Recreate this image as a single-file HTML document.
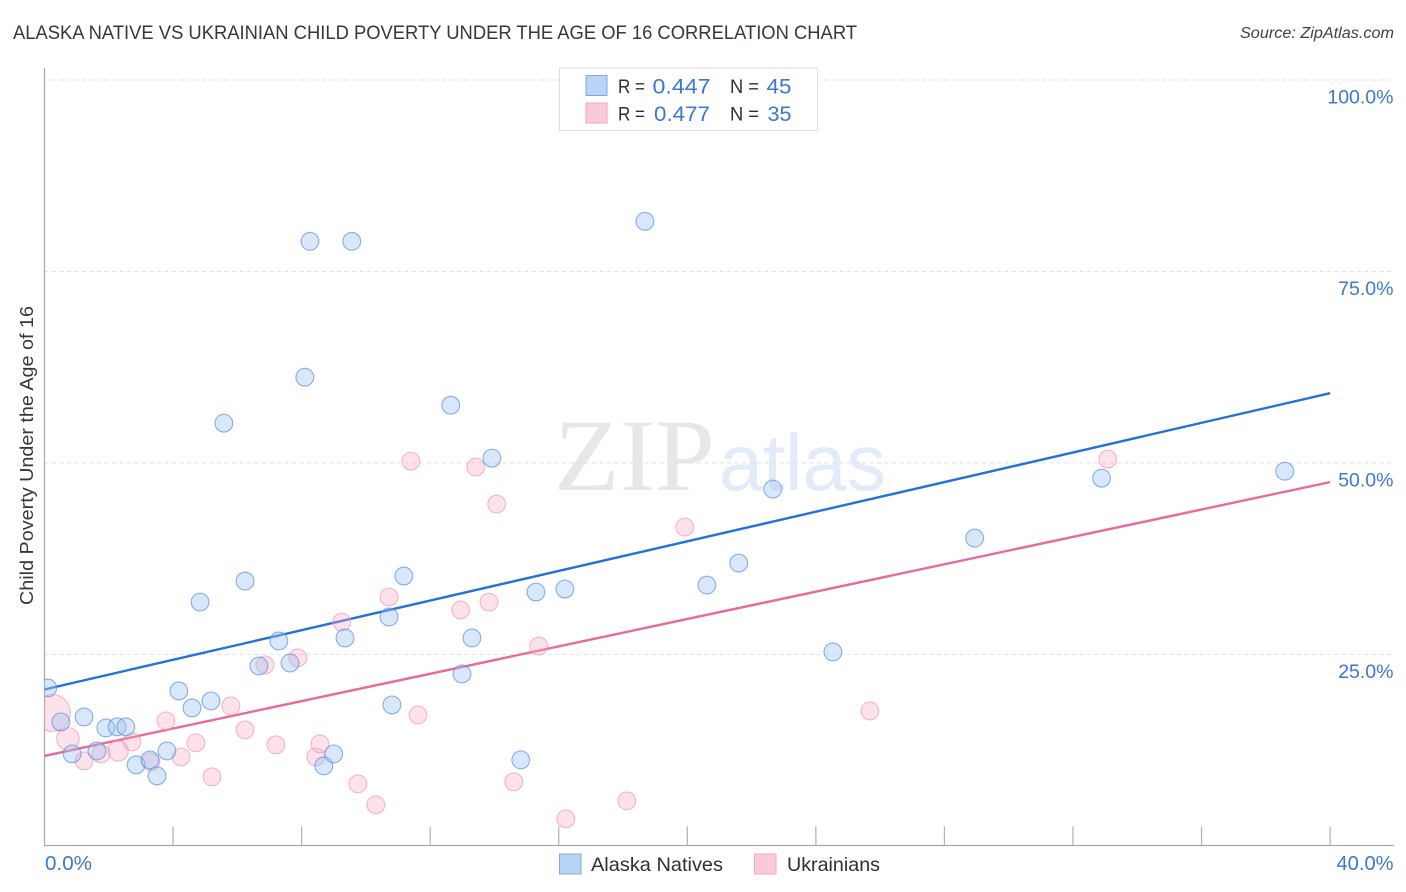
<!DOCTYPE html>
<html lang="en">
<head>
<meta charset="utf-8">
<title>Alaska Native vs Ukrainian Child Poverty Correlation Chart</title>
<style>
  html, body { margin: 0; padding: 0; background: #fff; }
  svg { display: block; font-family: "Liberation Sans", sans-serif; }
</style>
</head>
<body>
<svg id="chart" width="1406" height="892" viewBox="0 0 1406 892" xmlns="http://www.w3.org/2000/svg">
  <defs>
    <clipPath id="plot-clip"><rect x="44.5" y="60" width="1350" height="786"/></clipPath>
  </defs>
  <rect x="0" y="0" width="1406" height="892" fill="#ffffff"/>
  <text x="13" y="39" font-size="19" fill="#33373f" textLength="844" lengthAdjust="spacingAndGlyphs">ALASKA NATIVE VS UKRAINIAN CHILD POVERTY UNDER THE AGE OF 16 CORRELATION CHART</text>
  <text x="1394" y="38" font-size="15.5" font-style="italic" fill="#3c4048" text-anchor="end" textLength="154" lengthAdjust="spacingAndGlyphs">Source: ZipAtlas.com</text>

  <g>
    <text x="554" y="490" font-family="'Liberation Serif', serif" font-size="103" fill="#e7e7e7" textLength="161" lengthAdjust="spacingAndGlyphs">ZIP</text>
    <text x="719" y="490" font-size="80" fill="#e2ebfa" textLength="167" lengthAdjust="spacingAndGlyphs">atlas</text>
  </g>

  <g id="grid"></g>
  <g id="axes"></g>
  <g id="trends" clip-path="url(#plot-clip)"></g>
  <g id="points" clip-path="url(#plot-clip)"></g>
  <g id="labels"></g>

  <text transform="translate(33 455.5) rotate(-90)" font-size="18.5" fill="#33373f" text-anchor="middle" textLength="299" lengthAdjust="spacingAndGlyphs">Child Poverty Under the Age of 16</text>

  <g>
    <rect x="559.5" y="68" width="258" height="62.5" fill="#ffffff" stroke="#dddddd" stroke-width="1"/>
    <rect x="586" y="75.5" width="21" height="20" fill="#b9d3f7" stroke="#80a9e0" stroke-width="1"/>
    <rect x="586" y="103" width="21" height="20" fill="#fcc9d9" stroke="#f0a6bf" stroke-width="1"/>
    <text x="618" y="93" font-size="19.5" fill="#2b2f38" textLength="27" lengthAdjust="spacingAndGlyphs">R =</text>
    <text x="652.5" y="93.5" font-size="21.5" fill="#3b78d4" textLength="58" lengthAdjust="spacingAndGlyphs">0.447</text>
    <text x="730" y="93" font-size="19.5" fill="#2b2f38" textLength="29" lengthAdjust="spacingAndGlyphs">N =</text>
    <text x="766.5" y="93.5" font-size="21.5" fill="#3b78d4" textLength="25" lengthAdjust="spacingAndGlyphs">45</text>
    <text x="618" y="120.5" font-size="19.5" fill="#2b2f38" textLength="27" lengthAdjust="spacingAndGlyphs">R =</text>
    <text x="654" y="121" font-size="21.5" fill="#3b78d4" textLength="56" lengthAdjust="spacingAndGlyphs">0.477</text>
    <text x="730" y="120.5" font-size="19.5" fill="#2b2f38" textLength="29" lengthAdjust="spacingAndGlyphs">N =</text>
    <text x="767.5" y="121" font-size="21.5" fill="#3b78d4" textLength="24" lengthAdjust="spacingAndGlyphs">35</text>
  </g>

  <g>
    <rect x="559.5" y="854" width="21.5" height="20" fill="#b9d3f7" stroke="#80a9e0" stroke-width="1"/>
    <text x="591" y="871" font-size="19.5" fill="#2b2f38" textLength="132" lengthAdjust="spacingAndGlyphs">Alaska Natives</text>
    <rect x="754.5" y="854" width="21.5" height="20" fill="#fcc9d9" stroke="#f0a6bf" stroke-width="1"/>
    <text x="787" y="871" font-size="19.5" fill="#2b2f38" textLength="93" lengthAdjust="spacingAndGlyphs">Ukrainians</text>
  </g>
</svg>
<script>
const alaskaX = [0.1,0.51,0.86,1.23,1.63,1.91,2.26,2.53,2.85,3.28,3.50,3.81,4.18,4.59,4.84,5.18,5.58,6.24,6.67,7.29,7.64,8.10,8.26,8.69,9.00,9.35,9.56,10.72,10.81,11.18,12.64,12.99,13.30,13.92,14.82,15.29,16.19,18.68,20.61,21.60,22.66,24.53,28.94,32.89,38.59];
const alaskaY = [20.61,16.18,12.00,16.83,12.39,15.39,15.53,15.53,10.57,11.22,9.13,12.39,20.22,18.00,31.83,18.92,55.19,34.57,23.48,26.75,23.87,61.19,78.93,10.44,12.00,27.14,78.93,29.88,18.40,35.23,57.53,22.44,27.14,50.62,11.22,33.14,33.53,81.54,34.05,36.92,46.58,25.31,40.18,48.01,48.92];
const ukrainianX = [0.23,0.73,1.23,1.76,2.29,2.72,3.31,3.78,4.25,4.71,5.21,5.80,6.24,6.86,7.20,7.88,8.44,8.57,9.25,9.75,10.31,10.72,11.40,11.62,12.95,13.42,13.83,14.07,14.60,15.38,16.22,18.12,19.92,25.68,33.08];
const ukrainianY = [17.35,13.96,11.09,12.00,12.39,13.57,10.96,16.31,11.61,13.44,9.00,18.26,15.13,23.61,13.18,24.53,11.61,13.31,29.22,8.09,5.35,32.49,50.23,17.09,30.79,49.45,31.83,44.62,8.35,26.09,3.52,5.87,41.62,17.61,50.49];
const ukrainianWeight = [4.3,1.6,1,1,1.3,1,1,1,1,1,1,1,1,1,1,1,1,1,1,1,1,1,1,1,1,1,1,1,1,1,1,1,1,1,1];
const alaskaTrend = [20.42, 59.1];
const ukrainianTrend = [11.74, 47.49];
const trendX = [0, 40];
const yTicks = [25, 50, 75, 100];
const yTickLabels = ["25.0%", "50.0%", "75.0%", "100.0%"];
const xTicks = [0, 4, 8, 12, 16, 20, 24, 28, 32, 36, 40];
const xEndLabels = ["0.0%", "40.0%"];

const NS = "http://www.w3.org/2000/svg";
const xScale = v => 44.5 + v * 32.14;
const yScale = v => 845.8 - v * 7.658;
const baseRadius = 8.9;

function make(tag, attrs, parent, text) {
  const el = document.createElementNS(NS, tag);
  for (const k in attrs) el.setAttribute(k, attrs[k]);
  if (text !== undefined) el.textContent = text;
  parent.appendChild(el);
  return el;
}

const grid = document.getElementById("grid");
const axes = document.getElementById("axes");
const trends = document.getElementById("trends");
const points = document.getElementById("points");
const labels = document.getElementById("labels");

yTicks.forEach((t, i) => {
  const line = make("line", {x1: 44.5, x2: 1394, y1: yScale(t), y2: yScale(t), stroke: "#e0e0e0", "stroke-width": 1, "stroke-dasharray": "4 3.5"}, grid);
  
  
  const label = make("text", {x: 1393.5, y: yScale(t) + 23.5, "font-size": 19.5, fill: "#3b78d4", "text-anchor": "end"}, labels, yTickLabels[i]);
  
  
});

const yAxisLine = make("line", {x1: 44.5, x2: 44.5, y1: 68, y2: 846, stroke: "#a8a8a8", "stroke-width": 1.2}, axes);


const xAxisLine = make("line", {x1: 44, x2: 1394, y1: 845.5, y2: 845.5, stroke: "#a8a8a8", "stroke-width": 1.2}, axes);



xTicks.slice(1).forEach(t => {
  const tick = make("line", {x1: xScale(t), x2: xScale(t), y1: 826.5, y2: 846, stroke: "#b0b0b0", "stroke-width": 1.2}, axes);
  
  
});

const xLabelStart = make("text", {x: 45, y: 870, "font-size": 20, fill: "#3b78d4", textLength: 47, lengthAdjust: "spacingAndGlyphs"}, labels, xEndLabels[0]);


const xLabelEnd = make("text", {x: 1393.5, y: 870, "font-size": 20, fill: "#3b78d4", "text-anchor": "end", textLength: 57, lengthAdjust: "spacingAndGlyphs"}, labels, xEndLabels[1]);



const blueLine = make("line", {x1: xScale(trendX[0]), y1: yScale(alaskaTrend[0]), x2: xScale(trendX[1]), y2: yScale(alaskaTrend[1]), stroke: "#2272d8", "stroke-width": 2.4}, trends);


const pinkLine = make("line", {x1: xScale(trendX[0]), y1: yScale(ukrainianTrend[0]), x2: xScale(trendX[1]), y2: yScale(ukrainianTrend[1]), stroke: "#e9699a", "stroke-width": 2.4}, trends);



ukrainianX.forEach((x, i) => {
  const c = make("circle", {cx: xScale(x), cy: yScale(ukrainianY[i]), r: baseRadius * Math.sqrt(ukrainianWeight[i]), fill: "#f9a8c3", "fill-opacity": 0.34, stroke: "#ee9ab8", "stroke-opacity": 0.7, "stroke-width": 1.1}, points);
  
  
});
alaskaX.forEach((x, i) => {
  const c = make("circle", {cx: xScale(x), cy: yScale(alaskaY[i]), r: baseRadius, fill: "#9ec3f2", "fill-opacity": 0.4, stroke: "#5a90dc", "stroke-opacity": 0.7, "stroke-width": 1.1}, points);
  
  
});
</script>
</body>
</html>
